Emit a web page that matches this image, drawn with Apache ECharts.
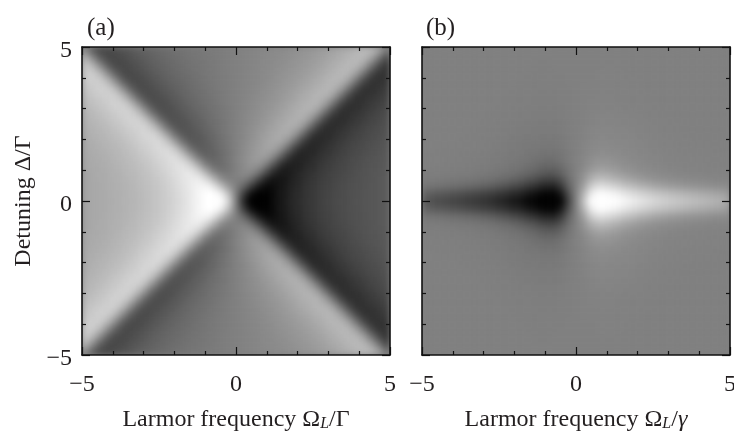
<!DOCTYPE html>
<html><head><meta charset="utf-8">
<style>
html,body{margin:0;padding:0;background:#fff}
#wrap{position:relative;width:734px;height:431px;overflow:hidden}
.under{position:absolute;top:47px;width:308px;height:308px;background:#808080}
#c{position:absolute;left:0;top:0;width:734px;height:431px}
#c canvas:first-child{filter:blur(3px);clip-path:polygon(0 0,0 355px,82px 355px,82px 47px,390px 47px,390px 355px,422px 355px,422px 47px,730px 47px,730px 355px,0 355px,0 431px,0 0)}
</style>
<script src="https://cdn.jsdelivr.net/npm/echarts@6/dist/echarts.min.js"></script>
</head><body><div id="wrap"><div class="under" style="left:82px"></div><div class="under" style="left:422px"></div><div id="c"></div></div>
<script>
// Grey levels (0-255); columns run x = -5..5 in 0.25 steps,
// the row name gives |y| in quarter units. Upper and lower halves look the same in the picture.
const tickLabels = [-5, 0, 5];
const a00=[166,168,170,172,174,178,180,184,188,194,200,206,214,222,234,244,255,255,255,214,128,42,0,0,0,12,22,34,42,50,56,62,68,72,76,78,82,84,86,88,90];
const a01=[166,168,170,172,175,177,181,184,189,194,200,207,214,224,233,245,254,255,239,193,128,63,17,1,2,11,23,32,42,49,56,62,67,72,75,79,81,84,86,88,90];
const a02=[166,168,170,173,175,178,181,186,190,195,201,208,217,225,235,243,246,229,192,153,128,103,64,27,10,13,21,31,39,48,55,61,66,70,75,78,81,83,86,88,90];
const a03=[166,168,171,173,176,179,183,187,192,197,203,211,219,228,235,236,218,181,143,127,128,129,113,75,38,20,21,28,37,45,53,59,64,69,73,77,80,83,85,88,90];
const a04=[167,169,171,174,177,181,185,189,194,200,207,214,222,229,229,210,171,132,116,118,128,138,140,124,85,46,27,27,34,42,49,56,62,67,71,75,79,82,85,87,89];
const a05=[168,170,172,175,179,183,187,192,197,204,211,218,224,223,204,164,124,106,107,117,128,139,149,150,132,92,52,33,32,38,45,52,59,64,69,73,77,81,84,86,88];
const a06=[169,171,174,177,181,185,190,195,202,208,215,221,219,199,158,118,99,99,107,117,128,139,149,157,157,138,98,57,37,35,41,48,54,61,66,71,75,79,82,85,87];
const a07=[170,173,176,180,183,188,193,200,206,213,218,216,196,154,113,93,93,100,109,118,128,138,147,156,163,163,143,102,60,40,38,43,50,56,63,68,73,76,80,83,86];
const a08=[172,175,179,182,187,191,198,204,211,216,214,193,151,110,89,88,94,103,111,120,128,136,145,153,162,168,167,146,105,63,42,40,45,52,58,65,69,74,77,81,84];
const a09=[174,178,181,186,190,197,202,209,214,212,191,149,107,86,85,90,98,105,114,121,128,135,142,151,158,166,171,170,149,107,65,44,42,47,54,59,66,70,75,78,82];
const a10=[177,180,185,189,196,201,208,212,210,189,147,105,84,82,87,95,101,109,115,122,128,134,141,147,155,161,169,174,172,151,109,67,46,44,48,55,60,67,71,76,79];
const a11=[179,184,188,195,200,207,211,209,187,145,103,82,80,85,92,98,106,111,117,122,128,134,139,145,150,158,164,171,176,174,153,111,69,47,45,49,56,61,68,72,77];
const a12=[183,187,194,199,206,210,208,186,144,101,80,78,83,90,96,103,108,114,118,123,128,133,138,142,148,153,160,166,173,178,176,155,112,70,48,46,50,57,62,69,73];
const a13=[187,193,198,205,209,207,185,143,100,79,76,81,88,94,101,106,111,115,120,124,128,132,136,141,145,150,155,162,168,175,180,177,156,113,71,49,47,51,58,63,69];
const a14=[192,198,204,208,206,184,142,99,78,75,80,86,92,99,104,109,113,117,121,125,128,131,135,139,143,147,152,157,164,170,176,181,178,157,114,72,50,48,52,58,64];
const a15=[197,203,208,205,183,141,98,77,74,79,85,91,97,102,107,111,115,119,122,125,128,131,134,137,141,145,149,154,159,165,171,177,182,179,158,115,73,51,48,53,59];
const a16=[203,207,204,183,140,97,76,73,78,84,90,96,101,105,109,113,117,120,123,125,128,131,133,136,139,143,147,151,155,160,166,172,178,183,180,159,116,73,52,49,53];
const a17=[206,204,182,139,97,75,72,77,83,89,95,100,104,108,111,115,118,121,123,126,128,130,133,135,138,141,145,148,152,156,161,167,173,179,184,181,159,117,74,52,50];
const a18=[203,181,139,96,74,72,76,82,88,94,99,103,107,110,114,116,119,121,124,126,128,130,132,135,137,140,142,146,149,153,157,162,168,174,180,184,182,160,117,75,53];
const a19=[181,138,95,74,71,75,82,87,93,98,102,106,109,113,115,118,119,122,124,126,128,130,132,134,137,138,141,143,147,150,154,158,163,169,174,181,185,182,161,118,75];
const a20=[138,95,73,70,75,81,86,93,97,101,105,108,112,114,117,118,121,122,124,126,128,130,132,134,135,138,139,142,144,148,151,155,159,163,170,175,181,186,183,161,118];

const b00=[86,79,75,71,67,63,59,55,50,44,37,30,22,14,6,1,1,1,6,66,128,190,250,255,255,255,250,242,234,226,219,212,206,201,197,193,189,185,181,177,170];
const b01=[98,92,89,86,82,78,74,70,65,60,54,47,39,31,21,12,6,4,24,78,128,178,232,252,250,244,235,225,217,209,202,196,191,186,182,178,174,170,167,164,158];
const b02=[116,115,113,111,109,107,104,101,97,92,86,80,72,64,54,44,36,34,54,96,128,160,202,222,220,212,202,192,184,176,170,164,159,155,152,149,147,145,143,141,140];
const b03=[124,124,123,122,121,120,119,117,115,113,109,105,99,93,85,77,69,68,82,108,128,148,174,188,187,179,171,163,157,151,147,143,141,139,137,136,135,134,133,132,132];
const b04=[126,126,126,126,125,125,124,123,122,120,118,116,113,109,104,98,93,92,101,116,128,140,155,164,163,158,152,147,143,140,138,136,134,133,132,131,131,130,130,130,130];
const b05=[127,127,127,126,126,126,125,125,124,123,122,120,118,116,113,109,106,106,112,121,128,135,144,150,150,147,143,140,138,136,134,133,132,131,131,130,130,130,129,129,129];
const b06=[127,127,127,127,127,126,126,126,125,124,123,122,121,119,117,115,113,113,117,123,128,133,139,143,143,141,139,137,135,134,133,132,131,130,130,130,129,129,129,129,129];
const b07=[128,128,127,127,127,127,127,126,126,125,124,123,122,121,120,119,118,118,120,124,128,132,136,138,138,137,136,135,134,133,132,131,130,130,129,129,129,129,129,128,128];
const b08=[128,128,128,128,128,127,127,127,126,126,125,124,123,122,121,121,120,120,122,125,128,131,134,136,136,135,135,134,133,132,131,130,130,129,129,129,128,128,128,128,128];
const b09=[128,128,128,128,128,128,127,127,127,126,126,125,124,123,123,122,122,122,123,126,128,130,133,134,134,134,133,133,132,131,130,130,129,129,129,128,128,128,128,128,128];
const b10=[128,128,128,128,128,128,128,127,127,127,126,126,125,124,124,123,123,123,124,126,128,130,132,133,133,133,132,132,131,130,130,129,129,129,128,128,128,128,128,128,128];
const b11=[128,128,128,128,128,128,128,128,127,127,127,126,126,125,125,124,124,124,125,127,128,129,131,132,132,132,131,131,130,130,129,129,129,128,128,128,128,128,128,128,128];
const b12=[128,128,128,128,128,128,128,128,128,127,127,127,126,126,126,125,125,125,126,127,128,129,130,131,131,131,130,130,130,129,129,129,128,128,128,128,128,128,128,128,128];
const b13=[128,128,128,128,128,128,128,128,128,128,127,127,127,127,126,126,126,126,126,127,128,129,130,130,130,130,130,129,129,129,129,128,128,128,128,128,128,128,128,128,128];
const b14=[128,128,128,128,128,128,128,128,128,128,128,127,127,127,127,126,126,126,127,127,128,129,129,130,130,130,129,129,129,129,128,128,128,128,128,128,128,128,128,128,128];
const b15=[128,128,128,128,128,128,128,128,128,128,128,128,127,127,127,127,127,127,127,127,128,129,129,129,129,129,129,129,129,128,128,128,128,128,128,128,128,128,128,128,128];
const b16=[128,128,128,128,128,128,128,128,128,128,128,128,128,127,127,127,127,127,127,128,128,128,129,129,129,129,129,129,128,128,128,128,128,128,128,128,128,128,128,128,128];
const b17=[128,128,128,128,128,128,128,128,128,128,128,128,128,128,127,127,127,127,128,128,128,128,128,129,129,129,129,128,128,128,128,128,128,128,128,128,128,128,128,128,128];
const b18=[128,128,128,128,128,128,128,128,128,128,128,128,128,128,128,127,127,128,128,128,128,128,128,128,129,129,128,128,128,128,128,128,128,128,128,128,128,128,128,128,128];
const b19=[128,128,128,128,128,128,128,128,128,128,128,128,128,128,128,128,128,128,128,128,128,128,128,128,128,128,128,128,128,128,128,128,128,128,128,128,128,128,128,128,128];
const b20=[128,128,128,128,128,128,128,128,128,128,128,128,128,128,128,128,128,128,128,128,128,128,128,128,128,128,128,128,128,128,128,128,128,128,128,128,128,128,128,128,128];

const rowsA=[a20,a19,a18,a17,a16,a15,a14,a13,a12,a11,a10,a09,a08,a07,a06,a05,a04,a03,a02,a01,a00,a01,a02,a03,a04,a05,a06,a07,a08,a09,a10,a11,a12,a13,a14,a15,a16,a17,a18,a19,a20];
const rowsB=[b20,b19,b18,b17,b16,b15,b14,b13,b12,b11,b10,b09,b08,b07,b06,b05,b04,b03,b02,b01,b00,b01,b02,b03,b04,b05,b06,b07,b08,b09,b10,b11,b12,b13,b14,b15,b16,b17,b18,b19,b20];
const cats=a00.map((_,i)=>String(i));
const toCells=rows=>rows.flatMap((r,j)=>r.map((v,i)=>[i,j,v]));

const FONT='"Liberation Serif"', INK='#231f20';
const fmt=v=>tickLabels.includes(v)?String(v).replace('-','\u2212'):'';
const fmtY=v=>tickLabels.includes(v)?'{d|'+String(v).replace('-','\u2212')+'}':'';
const line={show:true,onZero:false,lineStyle:{color:'#111',width:1.6}};
const tick={show:true,inside:true,length:8,lineStyle:{color:'#111',width:1.2}};
const minor={show:true,splitNumber:5,length:4,lineStyle:{color:'#111',width:1.2}};
const label={show:true,fontFamily:FONT,fontSize:24,color:INK};
const rich={s:{fontFamily:FONT,fontStyle:'italic',fontSize:16,color:INK,verticalAlign:'bottom',padding:[9,0,0,0]},i:{fontFamily:FONT,fontStyle:'italic',fontSize:24,color:INK}};
const vAxis=(g,pos,o)=>Object.assign({type:'value',gridIndex:g,position:pos,min:-5,max:5,interval:5,zlevel:1,axisLine:line,axisTick:tick,minorTick:minor,splitLine:{show:false},axisLabel:{show:false},z:5},o||{});
const catAxis=g=>({type:'category',gridIndex:g,data:cats,show:false});
const nameStyle={fontFamily:FONT,fontSize:24,color:INK,rich};
const xl={axisLabel:Object.assign({},label,{margin:18,formatter:fmt,hideOverlap:false}),nameLocation:'middle',nameGap:52,nameTextStyle:nameStyle};

const option={
 animation:false,backgroundColor:'transparent',
 title:[
  {zlevel:1,text:'(a)',left:82,top:11,textStyle:{fontFamily:FONT,fontWeight:'normal',fontSize:25,color:INK}},
  {zlevel:1,text:'(b)',left:421,top:11,textStyle:{fontFamily:FONT,fontWeight:'normal',fontSize:25,color:INK}}],
 grid:[{left:82,top:47,width:308,height:308,outerBoundsMode:'none'},{left:422,top:47,width:308,height:308,outerBoundsMode:'none'}],
 visualMap:{show:false,type:'continuous',min:0,max:255,dimension:2,seriesIndex:[0,1],inRange:{color:['#000000','#ffffff']}},
 xAxis:[catAxis(0),
  vAxis(0,'bottom',Object.assign({name:'Larmor frequency \u03a9{s|L}/\u0393'},xl)),
  vAxis(0,'top'),
  catAxis(1),
  vAxis(1,'bottom',Object.assign({name:'Larmor frequency \u03a9{s|L}/{i|\u03b3}'},xl)),
  vAxis(1,'top')],
 yAxis:[catAxis(0),
  vAxis(0,'left',{axisLabel:Object.assign({},label,{margin:10,formatter:fmtY,rich:{d:{fontFamily:FONT,fontSize:24,color:INK,padding:[7,0,0,0]}}}),name:'Detuning \u0394/\u0393',nameLocation:'middle',nameGap:46,nameTextStyle:nameStyle}),
  vAxis(0,'right'),
  catAxis(1),
  vAxis(1,'left'),
  vAxis(1,'right')],
 series:[
  {type:'heatmap',zlevel:0,xAxisIndex:0,yAxisIndex:0,data:toCells(rowsA),progressive:0,emphasis:{disabled:true}},
  {type:'heatmap',zlevel:0,xAxisIndex:3,yAxisIndex:3,data:toCells(rowsB),progressive:0,emphasis:{disabled:true}}]
};
echarts.init(document.getElementById('c'),null,{renderer:'canvas'}).setOption(option);
</script></body></html>
